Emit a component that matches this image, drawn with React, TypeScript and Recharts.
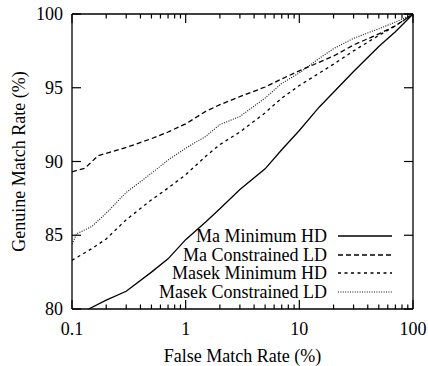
import React from 'react'
import { LineChart, Line, XAxis, YAxis, Legend, Label } from 'recharts'

const FONT =
  "'Liberation Serif', 'Times New Roman', Times, 'Nimbus Roman', 'Nimbus Roman No9 L', Tinos, 'Noto Serif', 'DejaVu Serif', FreeSerif, serif"

// false match rate (%) and genuine match rate (%) per method
const maMinX = [0.14, 0.2, 0.3, 0.5, 0.7, 1, 1.5, 2, 3, 5, 7, 10, 15, 20, 30, 50, 70, 100]
const maMinY = [80.0, 80.6, 81.2, 82.5, 83.4, 84.7, 85.9, 86.8, 88.1, 89.5, 90.8, 92.1, 93.7, 94.7, 96.1, 97.8, 98.8, 100]

const maConX = [0.1, 0.13, 0.17, 0.2, 0.3, 0.5, 0.7, 1, 1.5, 2, 3, 5, 7, 10, 20, 30, 50, 70, 100]
const maConY = [89.3, 89.55, 90.4, 90.55, 90.95, 91.55, 92.0, 92.55, 93.4, 93.85, 94.4, 95.05, 95.6, 96.15, 97.15, 97.9, 98.65, 99.2, 100]

const masekMinX = [0.1, 0.15, 0.2, 0.3, 0.5, 0.7, 1, 1.5, 2, 3, 5, 7, 10, 20, 30, 50, 70, 100]
const masekMinY = [83.3, 84.1, 84.75, 86.05, 87.4, 88.2, 89.1, 90.35, 91.15, 92.0, 93.3, 94.3, 95.15, 96.6, 97.5, 98.55, 99.2, 100]

const masekConX = [0.1, 0.11, 0.15, 0.2, 0.3, 0.5, 0.7, 1, 1.5, 2, 3, 5, 7, 10, 15, 20, 30, 50, 70, 100]
const masekConY = [84.4, 85.1, 85.6, 86.5, 87.9, 89.2, 90.1, 90.9, 91.7, 92.5, 93.05, 94.3, 95.3, 96.0, 97.0, 97.65, 98.35, 99.0, 99.45, 100]

const xMajor = [0.1, 1, 10, 100]
const xMinor = [0.2, 0.3, 0.4, 0.5, 0.6, 0.7, 0.8, 0.9, 2, 3, 4, 5, 6, 7, 8, 9, 20, 30, 40, 50, 60, 70, 80, 90]
const yTicks = [80, 85, 90, 95, 100]

const toPoints = (xs: number[], ys: number[]) => xs.map((x, i) => ({ x, y: ys[i] }))

const series = [
  { name: 'Ma Minimum HD', data: toPoints(maMinX, maMinY), dash: undefined, width: 1.3, color: '#000' },
  { name: 'Ma Constrained LD', data: toPoints(maConX, maConY), dash: '5 3', width: 1.3, color: '#000' },
  { name: 'Masek Minimum HD', data: toPoints(masekMinX, masekMinY), dash: '3 3.5', width: 1.3, color: '#000' },
  { name: 'Masek Constrained LD', data: toPoints(masekConX, masekConY), dash: '1 1.4', width: 1.1, color: '#111' },
]

const textStyle = { fontFamily: FONT, fontSize: 18, fill: '#000' }

const BottomTick = (props: any) => {
  const { x, y, payload } = props
  const major = xMajor.includes(payload.value)
  return (
    <g>
      <line x1={x} x2={x} y1={y} y2={y - (major ? 9 : 4.5)} stroke="#000" strokeWidth={1.2} />
      {major && (
        <text x={x} y={y + 26} textAnchor="middle" fontFamily={FONT} style={textStyle}>
          {payload.value}
        </text>
      )}
    </g>
  )
}

const TopTick = (props: any) => {
  const { x, y, payload } = props
  const major = xMajor.includes(payload.value)
  return <line x1={x} x2={x} y1={y} y2={y + (major ? 9 : 4.5)} stroke="#000" strokeWidth={1.2} />
}

const LeftTick = (props: any) => {
  const { x, y, payload } = props
  return (
    <g>
      <line x1={x} x2={x + 9} y1={y} y2={y} stroke="#000" strokeWidth={1.2} />
      <text x={x - 9} y={y + 6} textAnchor="end" fontFamily={FONT} style={textStyle}>
        {payload.value}
      </text>
    </g>
  )
}

const RightTick = (props: any) => {
  const { x, y } = props
  return <line x1={x} x2={x - 9} y1={y} y2={y} stroke="#000" strokeWidth={1.2} />
}

const LegendBox = () => (
  <div style={{ fontFamily: FONT, fontSize: 18, lineHeight: '18.5px', color: '#000' }}>
    {series.map((s) => (
      <div key={s.name} style={{ display: 'flex', alignItems: 'center', height: 18.5 }}>
        <span style={{ width: 207, textAlign: 'right', whiteSpace: 'nowrap' }}>{s.name}</span>
        <svg width={56} height={10} style={{ marginLeft: 11 }}>
          <line x1={0} x2={54} y1={5} y2={5} stroke={s.color} strokeWidth={s.width} strokeDasharray={s.dash} />
        </svg>
      </div>
    ))}
  </div>
)

export default function App() {
  return (
    <div style={{ position: 'absolute', left: 0, top: 0, background: '#fff', fontFamily: FONT }}>
      <LineChart width={428} height={366} margin={{ top: 4, right: 5, bottom: 0, left: 12 }}>
        <XAxis
          dataKey="x"
          type="number"
          scale="log"
          domain={[0.1, 100]}
          allowDataOverflow
          ticks={[...xMajor, ...xMinor]}
          interval={0}
          height={57}
          tickSize={0}
          tickMargin={0}
          tickLine={false}
          tick={<BottomTick />}
          axisLine={{ stroke: '#000', strokeWidth: 1.3 }}
        >
          <Label
            content={(p: any) => {
              const vb = p.viewBox
              return (
                <text x={vb.x + vb.width / 2} y={vb.y + 53} textAnchor="middle" fontFamily={FONT} style={textStyle}>
                  False Match Rate (%)
                </text>
              )
            }}
          />
        </XAxis>
        <XAxis
          xAxisId="top"
          orientation="top"
          dataKey="x"
          type="number"
          scale="log"
          domain={[0.1, 100]}
          allowDataOverflow
          ticks={[...xMajor, ...xMinor]}
          interval={0}
          height={10}
          tickSize={0}
          tickMargin={0}
          tickLine={false}
          tick={<TopTick />}
          axisLine={{ stroke: '#000', strokeWidth: 1.3 }}
        />
        <YAxis
          type="number"
          domain={[80, 100]}
          allowDataOverflow
          ticks={yTicks}
          interval={0}
          width={60}
          tickSize={0}
          tickMargin={0}
          tickLine={false}
          tick={<LeftTick />}
          axisLine={{ stroke: '#000', strokeWidth: 1.3 }}
        >
          <Label
            content={(p: any) => {
              const vb = p.viewBox
              const cx = vb.x + 13
              const cy = vb.y + vb.height / 2
              return (
                <text
                  transform={`translate(${cx}, ${cy}) rotate(-90)`}
                  textAnchor="middle"
                  fontFamily={FONT}
                  style={textStyle}
                >
                  Genuine Match Rate (%)
                </text>
              )
            }}
          />
        </YAxis>
        <YAxis
          yAxisId="right"
          orientation="right"
          type="number"
          domain={[80, 100]}
          allowDataOverflow
          ticks={yTicks}
          interval={0}
          width={10}
          tickSize={0}
          tickMargin={0}
          tickLine={false}
          tick={<RightTick />}
          axisLine={{ stroke: '#000', strokeWidth: 1.3 }}
        />
        <Legend
          layout="horizontal"
          verticalAlign="middle"
          align="center"
          content={<LegendBox />}
          wrapperStyle={{ left: 120, top: 227, width: 290, height: 80 }}
        />
        {series.map((s) => (
          <Line
            key={s.name}
            name={s.name}
            data={s.data}
            dataKey="y"
            type="linear"
            stroke={s.color}
            strokeWidth={s.width}
            strokeDasharray={s.dash}
            dot={false}
            activeDot={false}
            isAnimationActive={false}
          />
        ))}
      </LineChart>
    </div>
  )
}
